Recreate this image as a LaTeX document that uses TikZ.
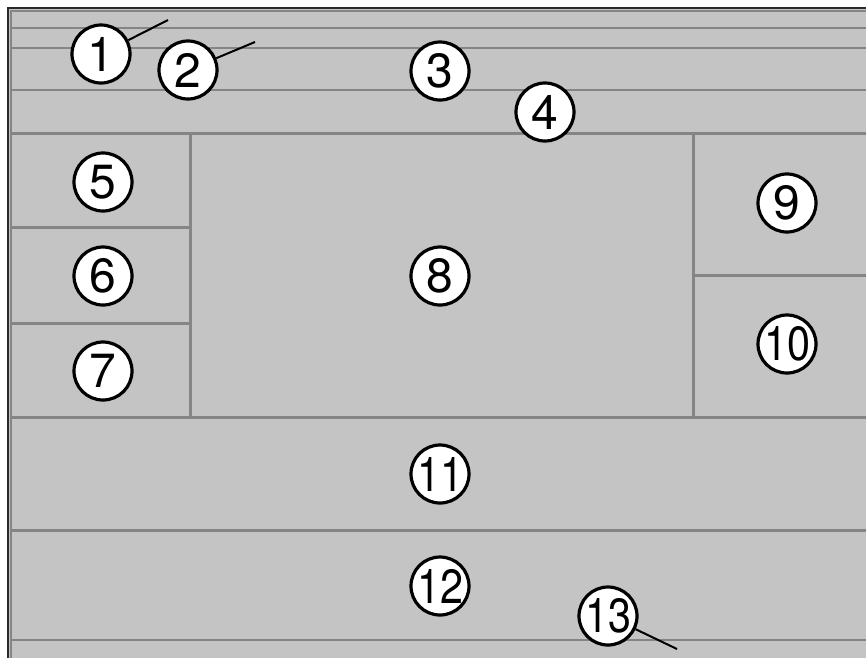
\documentclass[tikz,border=0pt]{standalone}
\usepackage{fontspec}
\setmainfont{TeX Gyre Heros}
\definecolor{panel}{HTML}{C4C4C4}
\definecolor{divider}{HTML}{858585}
\definecolor{frame}{HTML}{2A2A2A}
\tikzset{
  num/.style={circle, draw=black, line width=3.2pt, fill=white, minimum size=58pt, inner sep=0pt,
    font=\fontsize{48}{48}\selectfont},
  thick divider/.style={draw=divider, line width=3pt},
  thin divider/.style={draw=divider, line width=2pt},
  leader/.style={draw=black, line width=2pt}
}
\newcommand{\twodig}[1]{\scalebox{0.86}[1]{#1}}
\begin{document}
\begin{tikzpicture}[x=1pt, y=-1pt]
\useasboundingbox (0,0) rectangle (866,657);
\clip (0,0) rectangle (866,657);
\fill[white] (0,0) rectangle (866,657);
% panel and frame
\fill[panel] (8,8) rectangle (880,670);
\draw[frame, line width=1.6pt] (8,880) -- (8,8) -- (880,8);
\draw[thin divider] (11,880) -- (11,11) -- (880,11);
% top strips
\draw[thin divider] (11,28) -- (880,28);
\draw[thin divider] (11,48) -- (880,48);
\draw[thin divider] (11,90) -- (880,90);
\draw[thick divider] (11,133) -- (880,133);
% middle band
\draw[thick divider] (190,133) -- (190,417);
\draw[thick divider] (11,227) -- (190,227);
\draw[thick divider] (11,323) -- (190,323);
\draw[thick divider] (693,133) -- (693,417);
\draw[thick divider] (693,275) -- (880,275);
\draw[thick divider] (11,417) -- (880,417);
% bottom bands
\draw[thick divider] (11,530) -- (880,530);
\draw[thin divider] (11,640) -- (880,640);
% numbered circles
\node[num] (n1) at (101,54) {1};
\node[num] (n2) at (188,70) {2};
\node[num] (n3) at (440,71) {3};
\node[num] (n4) at (545,112) {4};
\node[num] (n5) at (103,182) {5};
\node[num] (n6) at (103,276) {6};
\node[num] (n7) at (103,371) {7};
\node[num] (n8) at (440,276) {8};
\node[num] (n9) at (787,203) {9};
\node[num] (n10) at (787,344) {\twodig{10}};
\node[num] (n11) at (440,474) {\twodig{11}};
\node[num] (n12) at (440,586) {\twodig{12}};
\node[num] (n13) at (608,616) {\twodig{13}};
% leader lines
\coordinate (e1) at (168,20);
\coordinate (e2) at (255,42);
\coordinate (e13) at (677,649);
\draw[leader] (n1) -- (e1);
\draw[leader] (n2) -- (e2);
\draw[leader] (n13) -- (e13);
\end{tikzpicture}
\end{document}
